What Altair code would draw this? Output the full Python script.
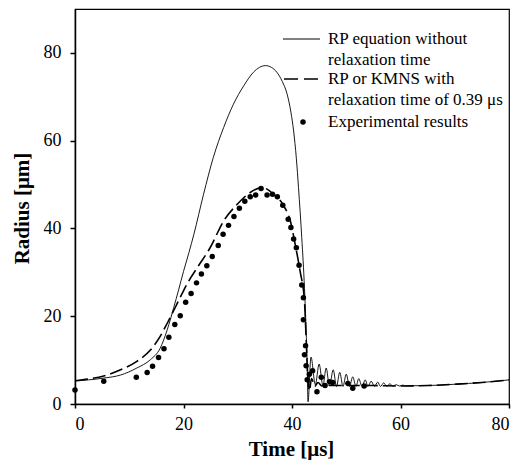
import altair as alt
import pandas as pd

# RP equation without relaxation time (solid line)
rp_time = [0, 2.5, 5.3, 8.4, 11.4, 13.9, 15.7, 17.0, 18.2, 19.1, 20.0, 21.0, 21.9,
           23.7, 25.5, 27.4, 29.2, 31.1, 32.9, 34.0, 35.1, 36.2, 37.2, 38.2, 39.1,
           39.8, 40.3, 40.8, 41.2, 41.8, 42.3, 42.6, 42.8, 42.95,
           43.5, 44.3, 45.0, 45.7, 46.3, 46.9, 47.6, 48.2, 48.8, 49.4, 50.0, 50.6,
           51.2, 51.8, 52.3, 52.9, 53.5, 54.0, 54.6, 55.2, 55.8, 56.3, 56.9, 57.5,
           58.0, 58.6, 59.2, 59.8, 60.4, 61.0, 65.0, 70.0, 75.0, 80.0]
rp_radius = [5.3, 5.5, 5.9, 6.6, 8.2, 10.1, 12.7, 16.9, 22.0, 26.0, 30.2, 34.5, 38.6,
             47.8, 56.2, 63.0, 68.3, 72.5, 75.6, 76.7, 77.1, 76.7, 75.6, 73.5, 70.6,
             66.5, 62.2, 56.0, 49.3, 37.9, 26.4, 17.0, 9.0, 0.5,
             10.7, 4.4, 9.1, 4.2, 8.2, 4.1, 7.8, 4.0, 7.2, 4.0, 6.8, 4.0,
             6.2, 4.0, 5.8, 4.0, 5.5, 4.0, 5.2, 4.0, 5.0, 4.0, 4.8, 4.0,
             4.6, 4.1, 4.4, 4.1, 4.3, 4.15, 4.2, 4.5, 4.9, 5.5]

# RP or KMNS with relaxation time of 0.39 us (dashed line)
relax_time = [0, 2.5, 5.3, 8.4, 11.4, 13.9, 15.7, 17.0, 18.8, 20.0, 21.2, 22.5,
              24.9, 27.4, 29.9, 32.3, 34.5, 36.6, 38.5, 39.7, 40.6, 41.5, 42.3,
              42.6, 42.9, 43.2, 43.6, 44.2, 44.8, 45.5, 46.2, 47.0, 50.0, 55.0,
              60.0, 65.0, 70.0, 75.0, 80.0]
relax_radius = [5.3, 5.7, 6.4, 7.8, 9.7, 12.3, 15.4, 18.4, 22.8, 25.8, 28.5, 31.0,
                35.6, 41.7, 45.5, 48.2, 49.3, 47.8, 45.1, 41.7, 36.3, 30.2, 23.4,
                15.0, 6.5, 3.0, 5.8, 4.0, 4.9, 4.1, 4.5, 4.2, 4.2, 4.2,
                4.1, 4.2, 4.5, 4.9, 5.5]

# Experimental results (points)
exp_time = [0.0, 5.3, 11.3, 13.3, 14.3, 15.4, 16.4, 17.3, 18.4, 19.4, 20.4, 21.4,
            22.4, 23.3, 24.3, 25.3, 26.4, 27.3, 28.3, 29.3, 30.3, 31.3, 32.3, 33.3,
            34.3, 35.4, 36.4, 37.3, 38.3, 39.3, 39.8, 40.3, 40.8, 41.3, 41.8, 42.1,
            42.1, 42.3, 42.5, 42.6, 42.8, 43.2, 43.8, 44.6, 45.4, 46.1, 46.9, 47.5,
            50.3, 51.2, 53.3]
exp_radius = [3.2, 5.2, 6.1, 7.2, 8.6, 10.6, 12.6, 15.2, 18.1, 20.1, 23.2, 25.2,
              27.6, 29.6, 31.5, 33.6, 36.1, 38.7, 40.7, 42.7, 44.6, 46.2, 47.2, 47.6,
              49.1, 47.6, 47.8, 47.2, 45.3, 42.1, 40.2, 37.6, 35.6, 31.6, 27.1, 24.2,
              19.2, 11.2, 13.3, 8.7, 5.5, 6.8, 7.6, 2.8, 6.1, 4.2, 5.1, 4.9,
              4.7, 3.6, 4.1]

tick_values = [0, 20, 40, 60, 80]
legend_lines = ["RP equation without", "relaxation time", "RP or KMNS with",
                "relaxation time of 0.39 \u03bcs", "Experimental results"]

FONT = "Times New Roman, Liberation Serif, serif"

rp_df = pd.DataFrame({"t": rp_time, "r": rp_radius})
relax_df = pd.DataFrame({"t": relax_time, "r": relax_radius})
exp_df = pd.DataFrame({"t": exp_time, "r": exp_radius})

x_scale = alt.Scale(domain=[0, 80], nice=False, zero=False)
y_scale = alt.Scale(domain=[0, 90], nice=False)


def x_enc():
    return alt.X("t:Q", scale=x_scale, axis=alt.Axis(
        title="Time [\u03bcs]", values=tick_values, grid=False, tickSize=4,
        labelPadding=7, titleX=216, titleY=51, titleBaseline="alphabetic",
        titleAlign="center"))


def y_enc():
    return alt.Y("r:Q", scale=y_scale, axis=alt.Axis(
        title="Radius [\u03bcm]", values=tick_values, grid=False, tickSize=5,
        labelPadding=9, titleX=-53, titleY=199, titleAngle=270,
        titleBaseline="middle", titleAlign="center"))


rp_line = alt.Chart(rp_df).mark_line(
    color="black", strokeWidth=0.9, interpolate="monotone"
).encode(x=x_enc(), y=y_enc())

relax_line = alt.Chart(relax_df).mark_line(
    color="black", strokeWidth=1.6, strokeDash=[13, 5], interpolate="monotone"
).encode(x=x_enc(), y=y_enc())

exp_pts = alt.Chart(exp_df).mark_circle(
    color="black", opacity=1, size=30
).encode(x=x_enc(), y=y_enc())

one = pd.DataFrame({"k": [0]})

leg_solid = alt.Chart(one).mark_rule(color="black", strokeWidth=1.0).encode(
    x=alt.value(208), x2=alt.value(245), y=alt.value(30))
leg_dash = alt.Chart(one).mark_rule(color="black", strokeWidth=1.6,
                                    strokeDash=[14, 6]).encode(
    x=alt.value(209), x2=alt.value(245), y=alt.value(70))
leg_dot = alt.Chart(one).mark_circle(color="black", opacity=1, size=30).encode(
    x=alt.value(228), y=alt.value(113))

text_y = [30, 51, 70, 91, 113]
leg_texts = []
for lab, yy in zip(legend_lines, text_y):
    leg_texts.append(
        alt.Chart(pd.DataFrame({"label": [lab]})).mark_text(
            font=FONT, fontSize=17, color="black", align="left", baseline="middle"
        ).encode(x=alt.value(253), y=alt.value(yy), text="label:N")
    )

chart = alt.layer(
    rp_line, relax_line, exp_pts, leg_solid, leg_dash, leg_dot, *leg_texts
).properties(
    width=434, height=395,
    autosize=alt.AutoSizeParams(type="none"),
    padding={"left": 75, "top": 9, "right": 10, "bottom": 56},
).configure_view(
    stroke="black", strokeWidth=1.2
).configure_axis(
    domainColor="black", domainWidth=1.5, tickColor="black", tickWidth=1.5,
    labelFont=FONT, labelFontSize=18, labelColor="black",
    titleFont=FONT, titleFontSize=21, titleFontWeight="bold", titleColor="black",
)

chart.save("out.html", embed_options={"renderer": "svg", "actions": False})
